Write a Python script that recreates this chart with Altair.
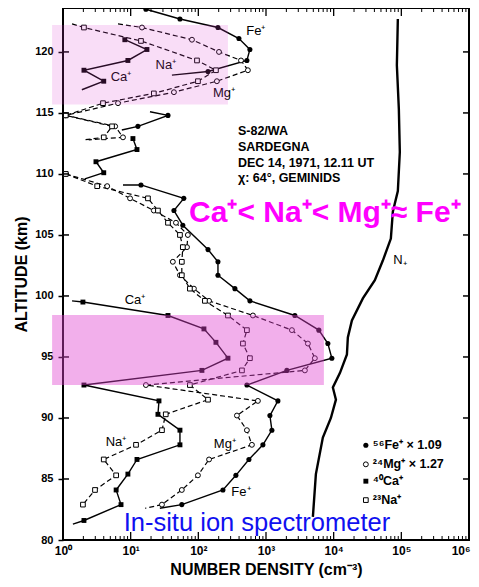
import altair as alt
import pandas as pd

# ---------------- data (altitude km, number density cm^-3) ----------------
# Fe+  (filled circles, solid)
fe_alt_1 = [123.5, 122.7, 122.0, 121.1, 120.2, 119.3, 118.4, 118.1]
fe_den_1 = [16.8, 53.5, 195, 398, 578, 522, 139, 40.7]
fe_mrk_1 = [1, 1, 1, 1, 1, 1, 1, 0]
fe_alt_2 = [115.1, 114.8, 113.9, 113.6]
fe_den_2 = [19.3, 35.6, 12.8, 7.4]
fe_mrk_2 = [0, 1, 1, 0]
fe_alt_3 = [109.1, 109.1, 108.0, 107.0, 105.8, 103.8, 102.8, 101.7, 100.6, 99.6,
            98.4, 97.2, 96.1, 94.9, 93.9, 92.7, 91.4, 90.2, 89.0, 87.8,
            86.6, 85.3, 84.1, 82.9, 82.6]
fe_den_3 = [7.7, 14.2, 61, 43.6, 59, 139, 195, 195, 347, 578,
            2670, 6040, 8210, 9400, 2035, 522, 1500, 1142, 1222, 900,
            559, 359, 231, 57, 27]
fe_mrk_3 = [0] + [1] * 23 + [0]

# Mg+  (open circles, dashed)
mg_alt_1 = [122.3, 122.0, 121.0, 120.0, 119.3, 118.5, 117.6, 116.7, 115.8, 114.8, 113.9, 113.0, 112.8]
mg_den_1 = [6.5, 14.7, 80.5, 202, 427, 540, 188, 43.6, 6.5, 1.1, 5.9, 7.7, 2.4]
mg_mrk_1 = [0] + [1] * 11 + [0]
mg_alt_2 = [110.0, 109.0, 108.0, 107.0, 106.0, 105.0, 104.0, 102.8, 101.7, 100.6,
            99.6, 98.4, 97.2, 96.1, 94.9, 93.9, 92.7, 91.4, 90.2, 89.0,
            87.8, 86.6, 85.3, 84.1, 82.9, 82.6]
mg_den_2 = [1.1, 4.5, 9.8, 22, 46.7, 70, 68, 42, 53.5, 86,
            144, 641, 2415, 4160, 5270, 3755, 16.8, 759, 372, 522,
            619, 144, 98.6, 57, 29, 16.3]
mg_mrk_2 = [1] * 25 + [0]

# Na+  (open squares, dashed)
na_alt_1 = [122.3, 122.0, 120.9, 119.3, 118.5, 117.6, 116.6, 115.8, 114.8, 113.9, 113.0, 112.8]
na_den_1 = [1.36, 2.04, 14.2, 95.5, 182, 98.7, 22, 3.9, 1.1, 5.3, 4.0, 2.1]
na_mrk_1 = [0] + [1] * 10 + [0]
na_alt_2 = [110.0, 109.0, 108.0, 107.0, 106.0, 105.0, 104.0, 102.8, 101.7, 100.6,
            99.6, 98.4, 97.2, 96.1, 94.9, 93.9, 92.7, 91.5, 90.3, 89.0,
            87.8, 86.6, 85.3, 84.1, 82.9]
na_den_2 = [1.1, 3.2, 18, 25.3, 35.6, 53.5, 59, 57, 57, 75,
            125, 274, 522, 456, 578, 441, 75, 139, 33, 29,
            12, 4.0, 6.1, 2.97, 1.97]
na_mrk_2 = [1] * 25

# Ca+  (filled squares, solid)
ca_alt_1 = [121.0, 120.2, 119.3, 118.5, 117.6, 116.9]
ca_den_1 = [8.2, 17.4, 9.1, 2.04, 4.0, 1.9]
ca_mrk_1 = [1, 1, 1, 1, 1, 0]
ca_alt_2 = [112.9, 112.0, 111.0, 110.1, 109.6]
ca_den_2 = [10.8, 12.4, 3.07, 4.0, 2.1]
ca_mrk_2 = [1, 1, 1, 1, 0]
ca_alt_3 = [99.6, 99.5, 98.4, 97.3, 96.2, 94.9, 93.9, 92.7, 91.4, 90.3,
            89.0, 87.8, 86.6, 85.4, 84.1, 82.9, 81.6, 81.3]
ca_den_3 = [1.36, 1.97, 35.6, 121, 182, 274, 113, 2.04, 26.2, 25.3,
            53.5, 53.5, 12.4, 9.1, 6.1, 7.2, 2.04, 1.4]
ca_mrk_3 = [0] + [1] * 16 + [0]

# N+ (thick solid line)
n_alt = [122.7, 118.9, 115.3, 111.8, 108.6, 106.9, 104.7, 102.9, 101.3, 99.8,
         98.0, 96.6, 95.2, 93.7, 92.5, 91.5, 90.0, 88.4, 85.4, 81.9]
n_den = [88800, 85900, 91900, 95000, 88800, 74900, 70000, 53300, 40600, 27000,
         18600, 16200, 15700, 12400, 9730, 10800, 9100, 6920, 5460, 4930]

# highlight boxes
box_x1 = [0.69, 0.69]
box_x2 = [274, 7170]
box_y1 = [115.7, 92.7]
box_y2 = [122.2, 98.45]
box_op = [0.18, 0.42]

# labels
sp_text = ["Ca⁺", "Na⁺", "Mg⁺", "Fe⁺", "Ca⁺", "Na⁺", "Mg⁺", "Fe⁺"]
sp_den = [7.2, 33.2, 239, 709, 11.6, 6.07, 247, 426]
sp_alt = [117.96, 118.94, 116.65, 121.7, 99.67, 88.0, 87.9, 83.9]

info_text = ["S-82/WA", "SARDEGNA", "DEC 14, 1971, 12.11 UT", "χ: 64°, GEMINIDS"]
info_alt = [113.55, 112.24, 110.86, 109.63]

leg_text = ["⁵⁶Fe⁺ × 1.09", "²⁴Mg⁺ × 1.27", "⁴⁰Ca⁺", "²³Na⁺"]
leg_alt = [87.76, 86.2, 84.82, 83.27]
leg_kind = ["Fe", "Mg", "Ca", "Na"]

x_major = [1, 10, 100, 1000, 10000, 100000, 1000000]
y_major = [80, 85, 90, 95, 100, 105, 110, 115, 120]
x_minor = [m * 10 ** k for k in range(6) for m in range(2, 10)]

# ---------------- tables ----------------
rows = []
def add(sp, seg, alts, dens, mrks):
    for i, (a, d, m) in enumerate(zip(alts, dens, mrks)):
        rows.append({"sp": sp, "seg": f"{sp}{seg}", "i": i, "alt": a, "den": d, "m": m})

add("Fe", 1, fe_alt_1, fe_den_1, fe_mrk_1)
add("Fe", 2, fe_alt_2, fe_den_2, fe_mrk_2)
add("Fe", 3, fe_alt_3, fe_den_3, fe_mrk_3)
add("Mg", 1, mg_alt_1, mg_den_1, mg_mrk_1)
add("Mg", 2, mg_alt_2, mg_den_2, mg_mrk_2)
add("Na", 1, na_alt_1, na_den_1, na_mrk_1)
add("Na", 2, na_alt_2, na_den_2, na_mrk_2)
add("Ca", 1, ca_alt_1, ca_den_1, ca_mrk_1)
add("Ca", 2, ca_alt_2, ca_den_2, ca_mrk_2)
add("Ca", 3, ca_alt_3, ca_den_3, ca_mrk_3)
df = pd.DataFrame(rows)

n_df = pd.DataFrame({"alt": n_alt, "den": n_den, "i": list(range(len(n_alt)))})
box_df = pd.DataFrame({"x1": box_x1, "x2": box_x2, "y1": box_y1, "y2": box_y2, "op": box_op})
sp_df = pd.DataFrame({"t": sp_text, "den": sp_den, "alt": sp_alt})
info_df = pd.DataFrame({"t": info_text, "alt": info_alt, "den": [385] * 4})
leg_df = pd.DataFrame({"t": leg_text, "alt": leg_alt, "kind": leg_kind,
                       "den": [29900] * 4, "tden": [37900] * 4})
xmaj_df = pd.DataFrame({"den": x_major[1:-1]})
xmin_df = pd.DataFrame({"den": x_minor})
ymaj_df = pd.DataFrame({"alt": y_major[1:]})

# ---------------- scales / axes ----------------
W, H = 406, 532
FONT = "Liberation Sans"
xs = alt.Scale(type="log", domain=[1, 1000000], nice=False)
ys = alt.Scale(domain=[80, 123.6], nice=False, zero=False)
xaxis = alt.Axis(values=x_major, ticks=False, domain=False, grid=False,
                 labelExpr="['10⁰','10¹','10²','10³','10⁴','10⁵','10⁶'][round(log(datum.value)/LN10)]",
                 labelFontSize=12, labelFontWeight="bold", labelPadding=5,
                 labelFlush=False,
                 labelAlign={"condition": {"test": "datum.value >= 1000000", "value": "right"}, "value": "center"},
                 labelOffset={"condition": {"test": "datum.value >= 1000000", "value": 1}, "value": 0},
                 title="NUMBER DENSITY (cm⁻³)", titleFontSize=16, titleFontWeight="bold",
                 titlePadding=5)
yaxis = alt.Axis(values=y_major, tickSize=5, tickWidth=1.5, tickColor="black",
                 domain=False, grid=False, labelFontSize=11, labelFontWeight="bold",
                 labelPadding=5, title="ALTITUDE (km)", titleFontSize=16,
                 titleFontWeight="bold", titlePadding=5)

X = alt.X("den:Q", scale=xs, axis=xaxis)
Y = alt.Y("alt:Q", scale=ys, axis=yaxis)

base = alt.Chart(df)

solid = base.transform_filter("datum.sp == 'Fe' || datum.sp == 'Ca'").mark_line(
    color="black", strokeWidth=1.4).encode(x=X, y=Y, detail="seg:N", order="i:Q")
dashed = base.transform_filter("datum.sp == 'Mg' || datum.sp == 'Na'").mark_line(
    color="black", strokeWidth=1.2, strokeDash=[5, 3]).encode(x=X, y=Y, detail="seg:N", order="i:Q")

fe_pts = base.transform_filter("datum.sp == 'Fe' && datum.m == 1").mark_point(
    shape="circle", filled=True, color="black", size=26, opacity=1).encode(x=X, y=Y)
mg_pts = base.transform_filter("datum.sp == 'Mg' && datum.m == 1").mark_point(
    shape="circle", filled=True, fill="white", stroke="black", strokeWidth=1, size=24, opacity=1).encode(x=X, y=Y)
ca_pts = base.transform_filter("datum.sp == 'Ca' && datum.m == 1").mark_point(
    shape="square", filled=True, color="black", size=24, opacity=1).encode(x=X, y=Y)
na_pts = base.transform_filter("datum.sp == 'Na' && datum.m == 1").mark_point(
    shape="square", filled=True, fill="white", stroke="black", strokeWidth=1, size=22, opacity=1).encode(x=X, y=Y)

nline = alt.Chart(n_df).mark_line(color="black", strokeWidth=2.4).encode(x=X, y=Y, order="i:Q")

boxes = alt.Chart(box_df).mark_rect(color="#e040d0").encode(
    x=alt.X("x1:Q", scale=xs, axis=xaxis), x2="x2:Q",
    y=alt.Y("y1:Q", scale=ys, axis=yaxis), y2="y2:Q",
    opacity=alt.Opacity("op:Q", scale=None))

sp_labels = alt.Chart(sp_df).mark_text(font=FONT, fontSize=13, color="black").encode(
    x=X, y=Y, text="t:N")
n_label = alt.Chart(pd.DataFrame({"t": ["N₊"], "den": [95000], "alt": [102.94]})).mark_text(
    font=FONT, fontSize=13, color="black").encode(x=X, y=Y, text="t:N")
info = alt.Chart(info_df).mark_text(font=FONT, fontSize=12.5, fontWeight="bold", align="left",
                                    color="black").encode(x=X, y=Y, text="t:N")
big = alt.Chart(pd.DataFrame({"t": ["Ca⁺< Na⁺< Mg⁺≈ Fe⁺"], "den": [7410], "alt": [106.8]})).mark_text(
    font=FONT, fontSize=30, fontWeight="bold", color="#ff00ff").encode(x=X, y=Y, text="t:N")
blue = alt.Chart(pd.DataFrame({"t": ["In-situ ion spectrometer"], "den": [734], "alt": [80.75]})).mark_text(
    font=FONT, fontSize=25.5, color="#1010f0", baseline="alphabetic").encode(x=X, y=Y, text="t:N")

leg = alt.Chart(leg_df)
leg_fe = leg.transform_filter("datum.kind == 'Fe'").mark_point(shape="circle", filled=True, color="black", size=26, opacity=1).encode(x=X, y=Y)
leg_mg = leg.transform_filter("datum.kind == 'Mg'").mark_point(shape="circle", filled=True, fill="white", stroke="black", strokeWidth=1, size=24, opacity=1).encode(x=X, y=Y)
leg_ca = leg.transform_filter("datum.kind == 'Ca'").mark_point(shape="square", filled=True, color="black", size=24, opacity=1).encode(x=X, y=Y)
leg_na = leg.transform_filter("datum.kind == 'Na'").mark_point(shape="square", filled=True, fill="white", stroke="black", strokeWidth=1, size=22, opacity=1).encode(x=X, y=Y)
leg_txt = leg.mark_text(font=FONT, fontSize=12.5, fontWeight="bold", align="left", color="black").encode(
    x=alt.X("tden:Q", scale=xs, axis=xaxis), y=Y, text="t:N")

# inward ticks
bt_min = alt.Chart(xmin_df).mark_rule(color="black", strokeWidth=1).encode(x=X, y=alt.value(H), y2=alt.value(H - 4))
bt_maj = alt.Chart(xmaj_df).mark_rule(color="black", strokeWidth=1.3).encode(x=X, y=alt.value(H), y2=alt.value(H - 8))
tt_min = alt.Chart(xmin_df).mark_rule(color="black", strokeWidth=1).encode(x=X, y=alt.value(0), y2=alt.value(4))
tt_maj = alt.Chart(xmaj_df).mark_rule(color="black", strokeWidth=1.3).encode(x=X, y=alt.value(0), y2=alt.value(8))
lt = alt.Chart(ymaj_df).mark_rule(color="black", strokeWidth=1.5).encode(y=Y, x=alt.value(0), x2=alt.value(6))
rt = alt.Chart(ymaj_df).mark_rule(color="black", strokeWidth=1.5).encode(y=Y, x=alt.value(W), x2=alt.value(W - 6))

chart = alt.layer(
    nline, solid, dashed, fe_pts, mg_pts, ca_pts, na_pts,
    sp_labels, n_label, info,
    leg_fe, leg_mg, leg_ca, leg_na, leg_txt,
    bt_min, bt_maj, tt_min, tt_maj, lt, rt,
    boxes, big, blue,
).properties(
    width=W, height=H, autosize="none",
    padding={"left": 55, "top": 0, "right": 2, "bottom": 39},
    background="white",
).configure_view(stroke="black", strokeWidth=2).configure_axis(
    labelFont=FONT, titleFont=FONT, labelColor="black", titleColor="black")

chart.save("out.html", embed_options={"renderer": "svg", "actions": False})
